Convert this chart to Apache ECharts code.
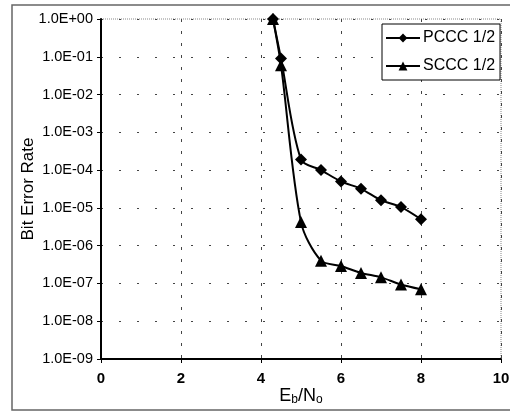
<!DOCTYPE html>
<html>
<head>
<meta charset="utf-8">
<script src="https://cdn.jsdelivr.net/npm/echarts@6/dist/echarts.min.js"></script>
<style>
  html, body { margin: 0; padding: 0; background: #fff; }
  #chart { width: 510px; height: 412px; }
</style>
</head>
<body>
<div id="chart"></div>
<script>
// Eb/No values (x) and bit error rates
const ebNo = [4.3, 4.5, 5.0, 5.5, 6.0, 6.5, 7.0, 7.5, 8.0]
const pcccBer = [1.0, 9.0e-2, 1.9e-4, 1.0e-4, 5.0e-5, 3.2e-5, 1.6e-5, 1.05e-5, 5.0e-6]
const scccBer = [1.0, 6.0e-2, 4.2e-6, 4.0e-7, 2.9e-7, 1.9e-7, 1.45e-7, 9.4e-8, 7.0e-8]
const seriesNames = ['PCCC 1/2', 'SCCC 1/2']
const yTickLabels = ['1.0E+00', '1.0E-01', '1.0E-02', '1.0E-03', '1.0E-04',
                     '1.0E-05', '1.0E-06', '1.0E-07', '1.0E-08', '1.0E-09']

const chart = echarts.init(document.getElementById('chart'))
const font = 'Liberation Sans, Arial, sans-serif'

const toPairs = (ys) => ebNo.map((x, i) => [x, ys[i]])

const option = {
    animation: false,
    textStyle: { fontFamily: font, color: '#000' },
    grid: {
        left: 101, right: 9, top: 19, bottom: 53,
        outerBoundsMode: 'none',
        show: true,
        borderColor: '#888',
        borderWidth: 1,
        borderType: 'dotted'
    },
    // outer frame of the figure
    graphic: [{
        type: 'rect',
        shape: { x: 12, y: 5, width: 510, height: 405 },
        style: { fill: 'none', stroke: '#666', lineWidth: 1.5 },
        silent: true
    }],
    legend: {
        data: seriesNames,
        orient: 'vertical',
        left: 382, top: 24,
        padding: [6, 5, 6, 3],
        itemWidth: 34, itemHeight: 11, itemGap: 12,
        backgroundColor: '#fff',
        borderColor: '#000', borderWidth: 1,
        textStyle: { fontSize: 16, fontFamily: font, color: '#000', padding: [0, 0, 0, -2] }
    },
    xAxis: {
        type: 'value',
        min: 0, max: 10, interval: 2,
        name: 'E{sub|b}/N{sub|o}',
        nameLocation: 'middle',
        nameGap: 28,
        nameMoveOverlap: false,
        nameTextStyle: {
            fontSize: 18, fontFamily: font, color: '#000',
            rich: { sub: { fontSize: 12, verticalAlign: 'bottom', padding: [7, 0, 0, 0], fontFamily: font } }
        },
        axisLine: { lineStyle: { color: '#000', width: 2 } },
        axisTick: { inside: false, length: 4, lineStyle: { color: '#000' } },
        axisLabel: { fontSize: 15, color: '#000', margin: 12, fontWeight: 'bold' },
        splitLine: { show: true, lineStyle: { color: '#444', type: [3, 9], width: 1 } }
    },
    yAxis: {
        type: 'log',
        logBase: 10,
        min: 1e-9, max: 1,
        splitNumber: 9,
        name: 'Bit Error Rate',
        nameLocation: 'middle',
        nameGap: 64,
        nameMoveOverlap: false,
        nameTextStyle: { fontSize: 17, fontFamily: font, color: '#000' },
        axisLine: { show: true, lineStyle: { color: '#000', width: 2 } },
        axisTick: { show: true, length: 4, lineStyle: { color: '#000' } },
        axisLabel: {
            fontSize: 14.5, color: '#000', margin: 8,
            formatter: (v) => yTickLabels[Math.round(-Math.log10(v))]
        },
        splitLine: { show: true, lineStyle: { color: '#444', type: [2, 16], width: 1 } },
        minorTick: { show: false },
        minorSplitLine: { show: false }
    },
    series: [
        {
            name: seriesNames[0],
            type: 'line',
            data: toPairs(pcccBer),
            smooth: 0.3,
            symbol: 'diamond',
            symbolSize: 12,
            itemStyle: { color: '#000' },
            lineStyle: { color: '#000', width: 2 }
        },
        {
            name: seriesNames[1],
            type: 'line',
            data: toPairs(scccBer),
            smooth: 0.3,
            symbol: 'triangle',
            symbolSize: 12,
            itemStyle: { color: '#000' },
            lineStyle: { color: '#000', width: 2 }
        }
    ]
}

chart.setOption(option)
</script>
</body>
</html>
